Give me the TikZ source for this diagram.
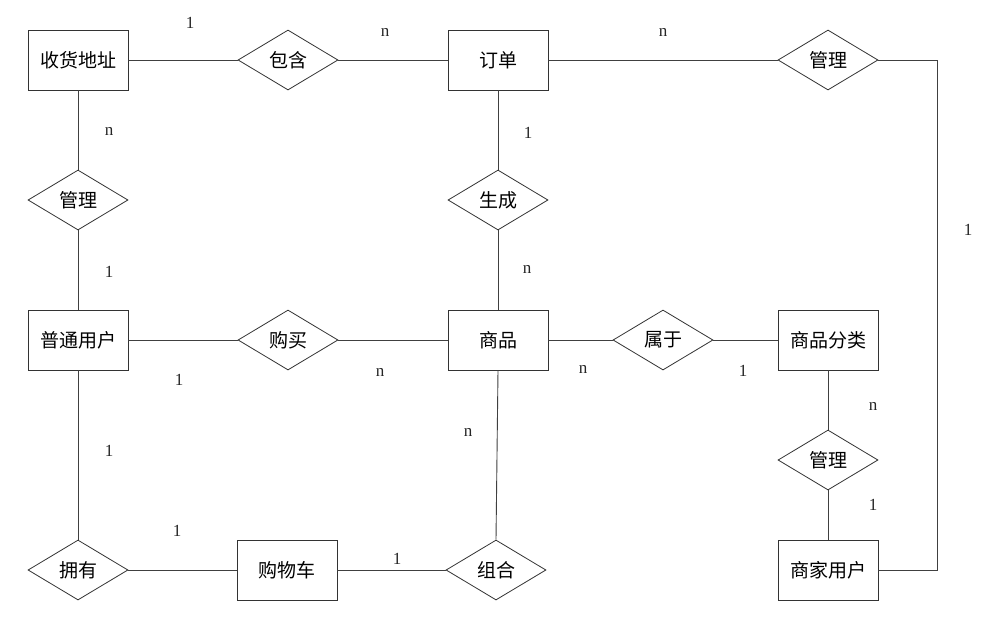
\documentclass[tikz,border=0pt]{standalone}
\usepackage{fontspec}
\setmainfont{Liberation Serif}
\newfontfamily\cjk{Noto Sans CJK SC}
\usetikzlibrary{shapes.geometric}
\begin{document}
\begin{tikzpicture}[x=1pt,y=-1pt,
  ent/.style={draw=black!80, line width=0.9pt, rectangle, minimum width=100pt, minimum height=60pt, inner sep=0pt, font=\cjk\fontsize{19}{19}\selectfont},
  rel/.style={draw=black!80, line width=0.8pt, diamond, aspect=1.667, minimum width=100pt, minimum height=60pt, inner sep=0pt, font=\cjk\fontsize{19}{19}\selectfont},
  conn/.style={draw=black!75, line width=0.9pt},
  lab/.style={inner sep=0pt, font=\fontsize{17}{17}\selectfont, text=black!85}]
\fill[white] (0,0) rectangle (993,630);
\useasboundingbox (0,0) rectangle (993,630);
% entities
\node[ent] (addr) at (78,60) {收货地址};
\node[ent] (order) at (498,60) {订单};
\node[ent] (user) at (78,340) {普通用户};
\node[ent] (goods) at (498,340) {商品};
\node[ent] (cat) at (828,340) {商品分类};
\node[ent] (cart) at (287,570) {购物车};
\node[ent] (seller) at (828,570) {商家用户};
% relationships
\node[rel] (contain) at (288,60) {包含};
\node[rel] (mgtop) at (828,60) {管理};
\node[rel] (mgleft) at (78,200) {管理};
\node[rel] (gen) at (498,200) {生成};
\node[rel] (buy) at (288,340) {购买};
\node[rel] (belong) at (663,340) {属于};
\node[rel] (mgcat) at (828,460) {管理};
\node[rel] (own) at (78,570) {拥有};
\node[rel] (combo) at (496,570) {组合};
% connectors
\coordinate (rc) at (937,60);
\draw[conn] (addr) -- (contain);
\draw[conn] (contain) -- (order);
\draw[conn] (order) -- (mgtop);
\draw[conn] (mgtop.east) -- (rc) |- (seller.east);
\draw[conn] (addr) -- (mgleft);
\draw[conn] (mgleft) -- (user);
\draw[conn] (order) -- (gen);
\draw[conn] (gen) -- (goods);
\draw[conn] (user) -- (buy);
\draw[conn] (buy) -- (goods);
\draw[conn] (goods) -- (belong);
\draw[conn] (belong) -- (cat);
\draw[conn] (cat) -- (mgcat);
\draw[conn] (mgcat) -- (seller);
\draw[conn] (user) -- (own);
\draw[conn] (own) -- (cart);
\draw[conn] (cart) -- (combo);
\draw[conn] (goods.south) -- (combo.north);
% cardinality labels
\node[lab] (c1) at (190,23) {1};
\node[lab] (c2) at (385,32) {n};
\node[lab] (c3) at (663,32) {n};
\node[lab] (c4) at (109,131) {n};
\node[lab] (c5) at (528,133) {1};
\node[lab] (c6) at (968,230) {1};
\node[lab] (c7) at (109,272) {1};
\node[lab] (c8) at (527,269) {n};
\node[lab] (c9) at (179,380) {1};
\node[lab] (c10) at (380,372) {n};
\node[lab] (c11) at (583,369) {n};
\node[lab] (c12) at (743,371) {1};
\node[lab] (c13) at (873,406) {n};
\node[lab] (c14) at (468,432) {n};
\node[lab] (c15) at (109,451) {1};
\node[lab] (c16) at (873,505) {1};
\node[lab] (c17) at (177,531) {1};
\node[lab] (c18) at (397,559) {1};
\end{tikzpicture}
\end{document}
